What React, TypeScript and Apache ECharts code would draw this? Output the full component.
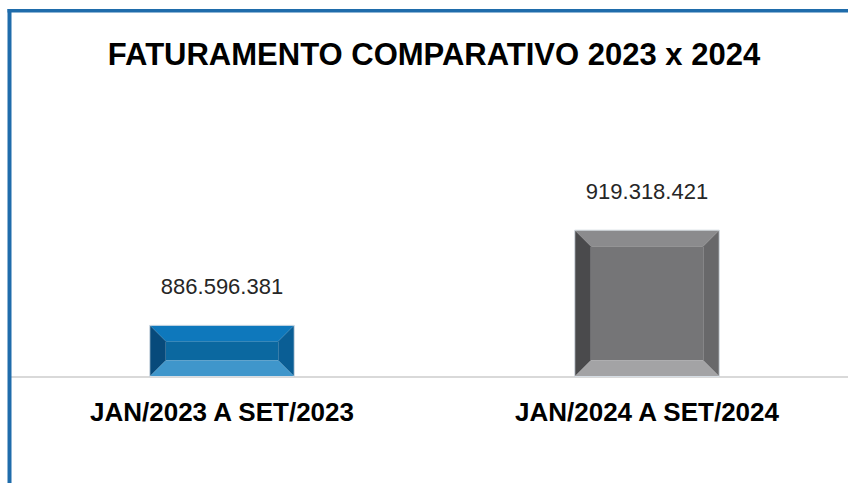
import React, { useEffect, useRef } from "react";
import * as echarts from "echarts";

const categories = ["JAN/2023 A SET/2023", "JAN/2024 A SET/2024"];
const values = [886596381, 919318421];
const titleText = "FATURAMENTO COMPARATIVO 2023 x 2024";

const Y_MIN = 869000000;
const Y_MAX = 940000000;

const barPalettes = [
  { top: "#0e78bc", left: "#074a7b", center: "#0b68a0", right: "#0a5e95", bottom: "#3f96cb" },
  { top: "#8b8b8d", left: "#4a4a4c", center: "#757577", right: "#68686a", bottom: "#a3a3a5" },
];

function fmt(n: number): string {
  const s = Math.round(n).toString();
  let out = "";
  for (let i = 0; i < s.length; i++) {
    const rem = s.length - i;
    out += s[i];
    if (rem > 1 && (rem - 1) % 3 === 0) out += ".";
  }
  return out;
}

export default function App() {
  const ref = useRef<HTMLDivElement>(null);
  useEffect(() => {
    if (!ref.current) return;
    const chart = echarts.init(ref.current, null, { renderer: "svg" });
    const renderItem = (params: any, api: any) => {
      const idx = params.dataIndex;
      const pal = barPalettes[idx % barPalettes.length];
      const cat = api.value(0);
      const val = api.value(1);
      const topPt = api.coord([cat, val]);
      const basePt = api.coord([cat, Y_MIN]);
      const w = api.size([1, 0])[0] * 0.34;
      const x0 = topPt[0] - w / 2;
      const x1 = topPt[0] + w / 2;
      const y0 = topPt[1];
      const y1 = basePt[1];
      const b = 16;
      const ix0 = x0 + b, ix1 = x1 - b, iy0 = y0 + b, iy1 = y1 - b;
      return {
        type: "group",
        children: [
          { type: "rect", shape: { x: ix0, y: iy0, width: ix1 - ix0, height: iy1 - iy0 }, style: { fill: pal.center } },
          { type: "polygon", shape: { points: [[x0, y0], [x1, y0], [ix1, iy0], [ix0, iy0]] }, style: { fill: pal.top } },
          { type: "polygon", shape: { points: [[x0, y0], [ix0, iy0], [ix0, iy1], [x0, y1]] }, style: { fill: pal.left } },
          { type: "polygon", shape: { points: [[x1, y0], [x1, y1], [ix1, iy1], [ix1, iy0]] }, style: { fill: pal.right } },
          { type: "polygon", shape: { points: [[x0, y1], [ix0, iy1], [ix1, iy1], [x1, y1]] }, style: { fill: pal.bottom } },
          { type: "rect", shape: { x: x0, y: y0, width: x1 - x0, height: y1 - y0 }, style: { fill: "none", stroke: "#d6dde4", lineWidth: 1 } },
          {
            type: "text",
            style: {
              x: topPt[0],
              y: y0 - 39,
              text: fmt(val),
              align: "center",
              verticalAlign: "middle",
              fill: "#262626",
              font: "22px 'Liberation Sans', Arial, sans-serif",
            },
          },
        ],
      };
    };
    chart.setOption({
      animation: false,
      backgroundColor: "#ffffff",
      title: {
        text: titleText,
        left: 429,
        textAlign: "center",
        top: 34,
        textStyle: {
          fontFamily: "'Liberation Sans', Arial, sans-serif",
          fontWeight: "bold",
          fontSize: 31,
          lineHeight: 31,
          color: "#000000",
        },
      },
      grid: { left: 9.5, right: 0.5, top: 170, bottom: 106.5, containLabel: false },
      xAxis: {
        type: "category",
        data: categories,
        axisLine: { show: true, lineStyle: { color: "#d9d9d9", width: 2 } },
        axisTick: { show: false },
        axisLabel: {
          interval: 0,
          margin: 22,
          fontFamily: "'Liberation Sans', Arial, sans-serif",
          fontWeight: "bold",
          fontSize: 26,
          lineHeight: 26,
          color: "#000000",
        },
      },
      yAxis: {
        type: "value",
        min: Y_MIN,
        max: Y_MAX,
        show: false,
        splitLine: { show: false },
      },
      series: [
        {
          type: "custom",
          renderItem,
          clip: false,
          data: categories.map((c, i) => [i, values[i]]),
          encode: { x: 0, y: 1 },
          z: 3,
        },
      ],
      graphic: [
        { type: "rect", shape: { x: 7.5, y: 9, width: 4, height: 483 }, style: { fill: "#1f6cab" }, z: 10 },
        { type: "rect", shape: { x: 7.5, y: 9, width: 860, height: 3.5 }, style: { fill: "#1f6cab" }, z: 10 },
      ],
    });
    return () => chart.dispose();
  }, []);
  return (
    <div
      style={{ position: "absolute", left: 0, top: 0, width: 848, height: 483, overflow: "hidden" }}
    >
      <div ref={ref} style={{ width: 860, height: 483 }} />
    </div>
  );
}
